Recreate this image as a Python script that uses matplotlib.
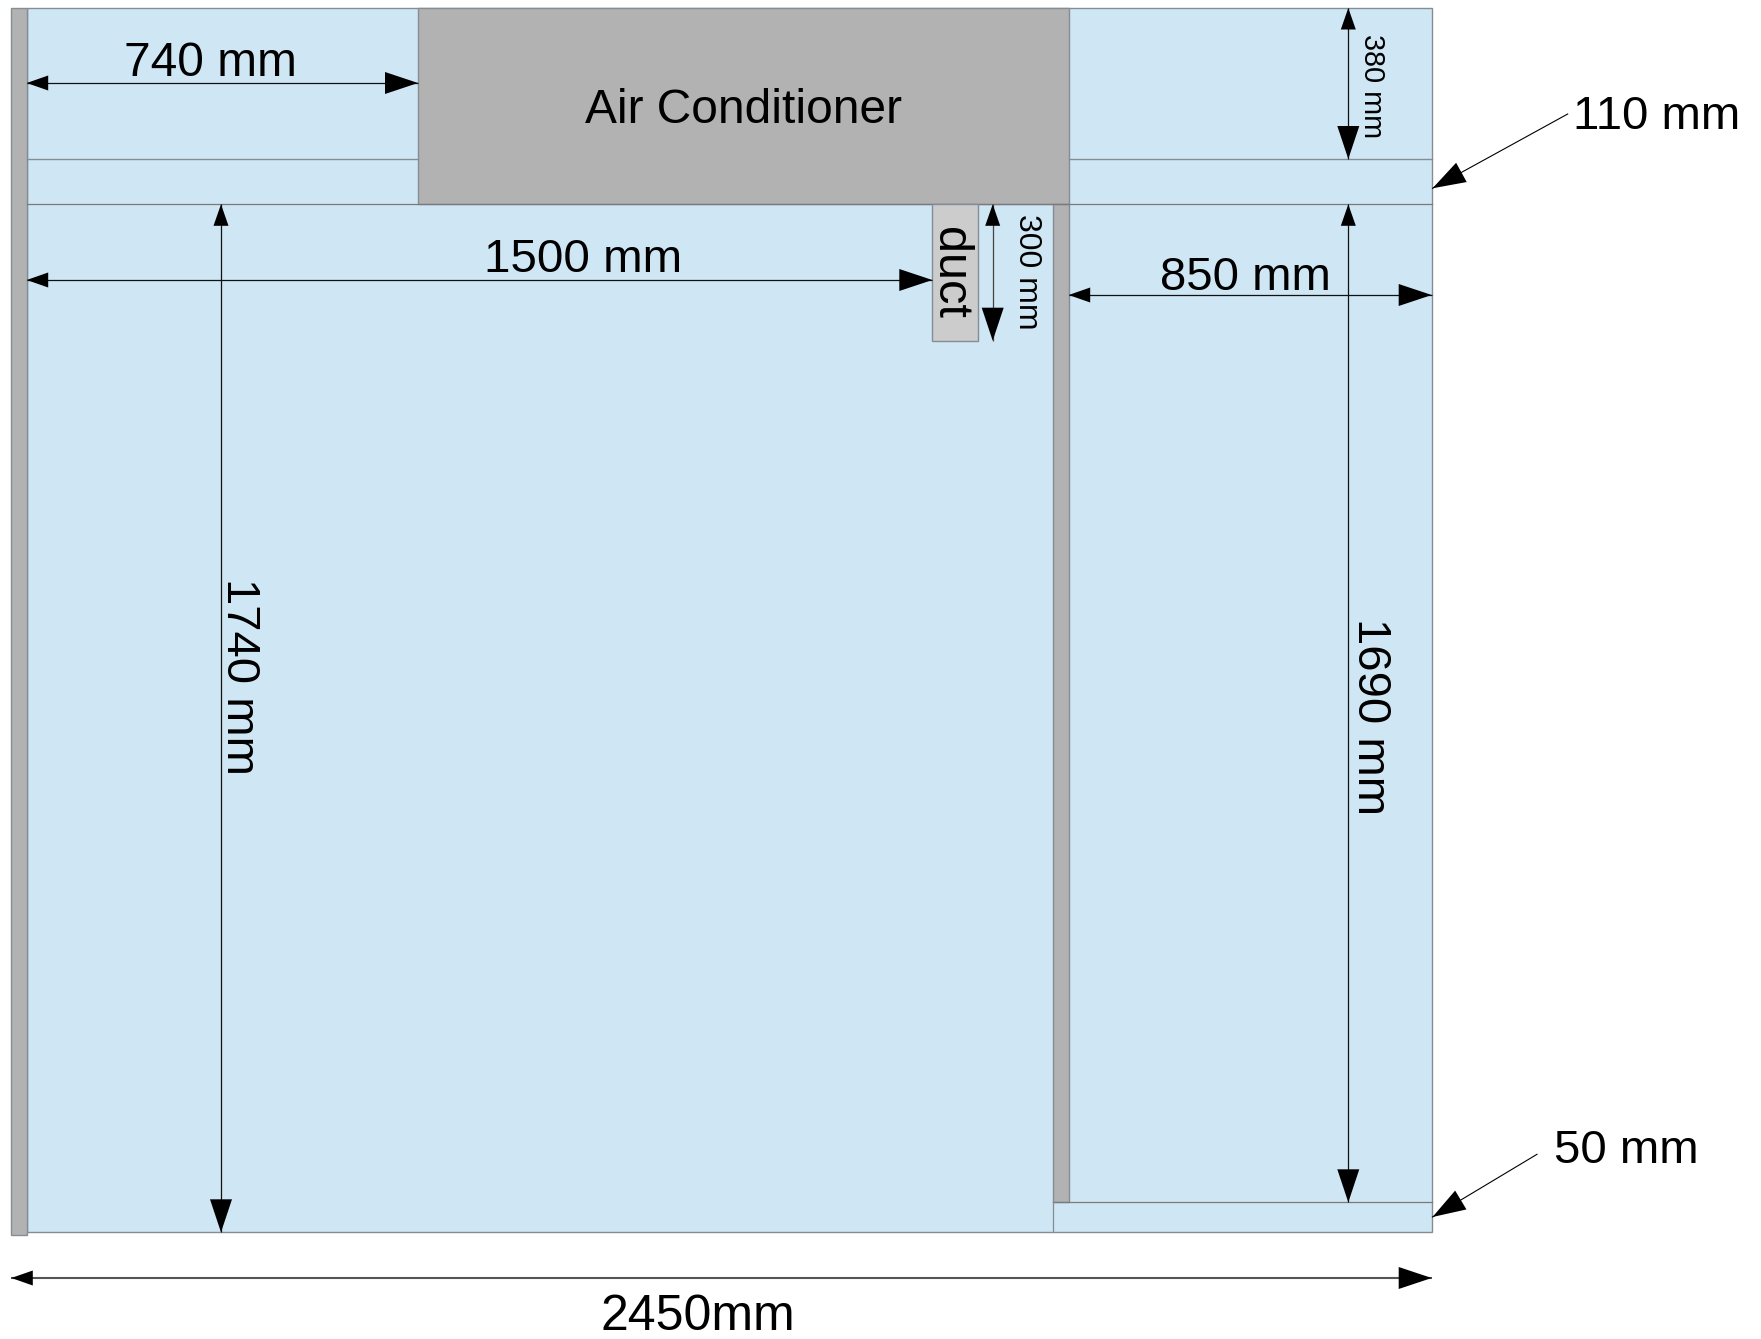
# floor plan of the air conditioned room, with the dimensions in mm
import matplotlib
matplotlib.use('Agg')
import matplotlib.pyplot as plt
from matplotlib.patches import Rectangle, Polygon
import numpy as np

plt.rcParams['font.family'] = ['Liberation Sans', 'DejaVu Sans']

# dimensions written on the drawing
dim_labels = ['740 mm', '1500 mm', '850 mm', '2450mm', '110 mm', '50 mm']
dim_labels_vert = ['1740 mm', '1690 mm']
small_labels_vert = ['380 mm', '300 mm']
ac_label = 'Air Conditioner'
duct_label = 'duct'

# room layout, in picture pixels (the drawing is not to scale)
wall_x = [11.3, 26.7]
room_x = [26.7, 1431.7]
room_y = [8, 1232.3]
ac_x = [418, 1068.7]
ac_y = [8, 204.3]
ac_line_y = 159
inner_wall_x = [1053.3, 1068.7]
step_y = 1202.3
duct_x = [932.3, 977.7]
duct_y = [204.3, 340.7]

BLUE = '#cfe6f4'
GREY = '#b2b2b2'
EDGE = '#858d94'

fig, ax = plt.subplots(figsize=(17.61, 13.39), dpi=100)
fig.subplots_adjust(0, 0, 1, 1)
ax.set_xlim(0, 1761)
ax.set_ylim(1339, 0)
ax.axis('off')


def box(xs, ys, color, z=1):
    ax.add_patch(Rectangle((xs[0], ys[0]), xs[1] - xs[0], ys[1] - ys[0],
                           fc=color, ec=EDGE, lw=1.0, zorder=z))


def head(tip, direction, big):
    # big heads are 33x22 px, small ones 21x15 px
    length, width = (33, 22) if big else (21.5, 15)
    d = np.array(direction, dtype=float)
    d = d / np.hypot(*d)
    n = np.array([-d[1], d[0]])
    tip = np.array(tip, dtype=float)
    base = tip - d * length
    ax.add_patch(Polygon([tip, base + n * width / 2, base - n * width / 2],
                         fc='black', ec='none', zorder=5))


def dim_arrow(a, b, lw=0.9, color='#111111'):
    # small head at a, big head at b
    ax.plot([a[0], b[0]], [a[1], b[1]], color=color, lw=lw, zorder=4,
            solid_capstyle='butt')
    d = (b[0] - a[0], b[1] - a[1])
    head(a, (-d[0], -d[1]), False)
    head(b, d, True)


def leader(start, tip):
    ax.plot([start[0], tip[0]], [start[1], tip[1]], color='black', lw=0.8, zorder=4)
    head(tip, (tip[0] - start[0], tip[1] - start[1]), True)


# room and walls
box(room_x, room_y, BLUE)
box(wall_x, [room_y[0], 1235], GREY, 2)
box(ac_x, ac_y, GREY, 2)
box(inner_wall_x, [ac_y[1], step_y], GREY, 2)
box(duct_x, duct_y, '#cccccc', 3)

ax.plot([room_x[0], ac_x[0]], [ac_line_y, ac_line_y], color=EDGE, lw=1.0, zorder=2)
ax.plot([ac_x[1], room_x[1]], [ac_line_y, ac_line_y], color=EDGE, lw=1.0, zorder=2)
ax.plot(room_x, [ac_y[1], ac_y[1]], color='#7a7a7a', lw=0.9, zorder=2)
ax.plot([inner_wall_x[0], room_x[1]], [step_y, step_y], color='#7a7a7a', lw=0.9, zorder=2)
ax.plot([inner_wall_x[0], inner_wall_x[0]], [step_y, room_y[1]], color=EDGE, lw=0.9, zorder=2)

# dimension arrows
dim_arrow((room_x[0], 83), (ac_x[0], 83))
dim_arrow((room_x[0], 280), (duct_x[0], 280))
dim_arrow((ac_x[1], 295), (room_x[1], 295))
dim_arrow((wall_x[0], 1278), (room_x[1], 1278), lw=1.5, color='#555555')
dim_arrow((221, ac_y[1]), (221, room_y[1]))
dim_arrow((1348.3, ac_y[1]), (1348.3, step_y))
dim_arrow((1348.3, room_y[0]), (1348.3, ac_line_y))
dim_arrow((992.7, ac_y[1]), (992.7, duct_y[1]), color='#444444')
leader((1567.7, 114), (1432.5, 188.3))
leader((1537, 1154.3), (1432.5, 1217))

# labels
label_x = [210, 583, 1245, 698, 1657, 1626]
label_y = [75.7, 271.7, 290, 1330, 129, 1163]
label_size = [34.5, 34.2, 34, 36, 34, 34]
for txt, x, y, s in zip(dim_labels, label_x, label_y, label_size):
    ax.text(x, y, txt, fontsize=s, ha='center', va='baseline', color='black', zorder=6)
ax.text(743.5, 123, ac_label, fontsize=34.5, ha='center', va='baseline', zorder=6)

rot = dict(rotation=-90, rotation_mode='anchor', ha='center', va='baseline', zorder=6)
for txt, x, y in zip(dim_labels_vert, [227.3, 1358.3], [676, 716.3]):
    ax.text(x, y, txt, fontsize=34, **rot)
ax.text(1364, 86, small_labels_vert[0], fontsize=20.8, **rot)
ax.text(1019, 272, small_labels_vert[1], fontsize=23, **rot)
ax.text(937, 273, duct_label, fontsize=35, **rot)

fig.savefig('out.png', dpi=100)
